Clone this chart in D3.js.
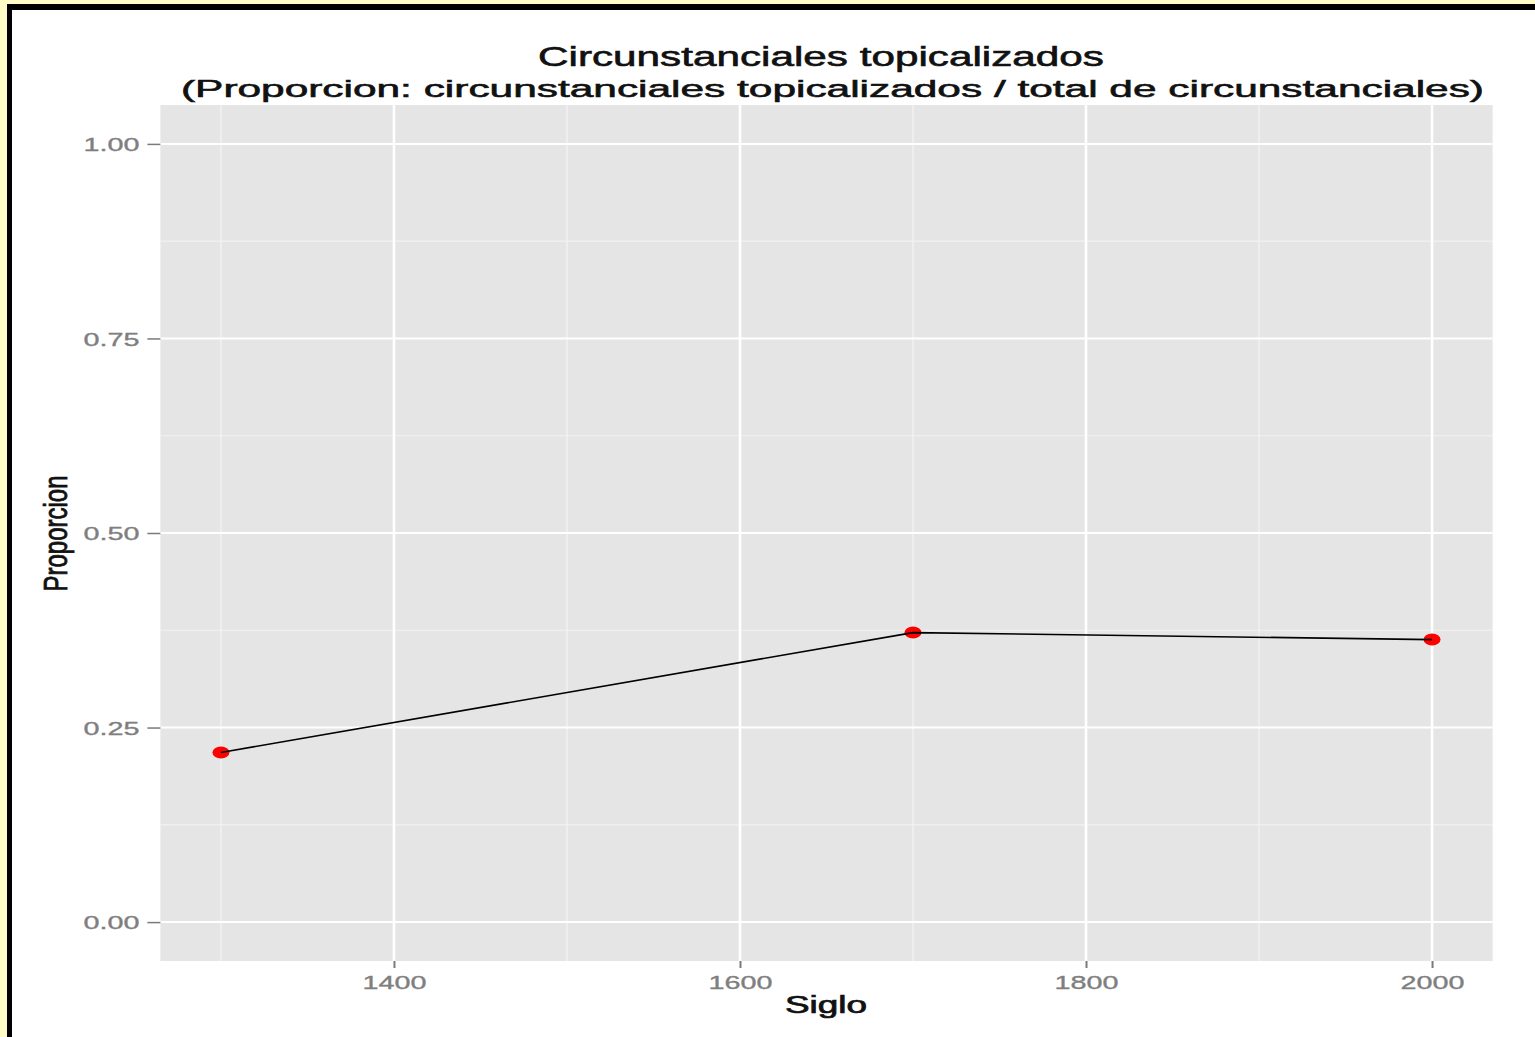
<!DOCTYPE html>
<html>
<head>
<meta charset="utf-8">
<script src="https://cdn.jsdelivr.net/npm/d3@7"></script>
<style>
html,body{margin:0;padding:0;background:#fffcc8;}
svg{display:block;}
text{font-family:"Liberation Sans",Arial,sans-serif;}
</style>
</head>
<body>
<svg id="chart" width="1535" height="1037"></svg>
<script>
// ---- data ----
const siglos = [1300, 1700, 2000];
const proporcion = [0.218, 0.372, 0.363];
const xTicks = [1400, 1600, 1800, 2000];
const xMinorTicks = [1300, 1500, 1700, 1900];
const yTicks = [0, 0.25, 0.5, 0.75, 1];
const yMinorTicks = [0.125, 0.375, 0.625, 0.875];
const titleLine1 = "Circunstanciales topicalizados";
const titleLine2 = "(Proporcion: circunstanciales topicalizados / total de circunstanciales)";
const xLabel = "Siglo";
const yLabel = "Proporcion";

const svg = d3.select("#chart");
const W = 1535, H = 1037;

// frame
svg.append("rect").attr("x", 0).attr("y", 0).attr("width", W).attr("height", H).attr("fill", "#fffcc8");
svg.append("rect").attr("x", 7).attr("y", 4).attr("width", W + 20).attr("height", H + 20).attr("fill", "#000");
svg.append("rect").attr("x", 12).attr("y", 10).attr("width", W + 20).attr("height", H + 20).attr("fill", "#fff");

const panel = {left: 160.4, right: 1492.6, top: 105, bottom: 961};
const x = d3.scaleLinear().domain([1265, 2035]).range([panel.left, panel.right]);
const y = d3.scaleLinear().domain([-0.05, 1.05]).range([panel.bottom, panel.top]);

// panel background
svg.append("rect")
  .attr("x", panel.left).attr("y", panel.top)
  .attr("width", panel.right - panel.left).attr("height", panel.bottom - panel.top)
  .attr("fill", "#e5e5e5");

const grid = svg.append("g");
// minor grid
grid.selectAll(".vminor").data(xMinorTicks).join("line")
  .attr("x1", d => x(d)).attr("x2", d => x(d)).attr("y1", panel.top).attr("y2", panel.bottom)
  .attr("stroke", "#f2f2f2").attr("stroke-width", 1.4);
grid.selectAll(".hminor").data(yMinorTicks).join("line")
  .attr("x1", panel.left).attr("x2", panel.right).attr("y1", d => y(d)).attr("y2", d => y(d))
  .attr("stroke", "#f2f2f2").attr("stroke-width", 1.2);
// major grid
grid.selectAll(".vmajor").data(xTicks).join("line")
  .attr("x1", d => x(d)).attr("x2", d => x(d)).attr("y1", panel.top).attr("y2", panel.bottom)
  .attr("stroke", "#ffffff").attr("stroke-width", 2.6);
grid.selectAll(".hmajor").data(yTicks).join("line")
  .attr("x1", panel.left).attr("x2", panel.right).attr("y1", d => y(d)).attr("y2", d => y(d))
  .attr("stroke", "#ffffff").attr("stroke-width", 2);

// axes
const xAxis = svg.append("g").attr("transform", `translate(0,${panel.bottom})`)
  .call(d3.axisBottom(x).tickValues(xTicks).tickFormat(d3.format("d")).tickSize(7).tickPadding(0));
xAxis.select(".domain").remove();
xAxis.selectAll(".tick line").attr("stroke", "#7a7a7a").attr("stroke-width", 2);
xAxis.selectAll(".tick text")
  .attr("y", 27.5).attr("dy", null)
  .attr("fill", "#7f7f7f").attr("stroke", "#7f7f7f").attr("stroke-width", 0.35)
  .attr("font-size", 18.5)
  .attr("textLength", 64).attr("lengthAdjust", "spacingAndGlyphs");

const yAxis = svg.append("g").attr("transform", `translate(${panel.left},0)`)
  .call(d3.axisLeft(y).tickValues(yTicks).tickFormat(d3.format(".2f")).tickSize(13).tickPadding(0));
yAxis.select(".domain").remove();
yAxis.selectAll(".tick line").attr("stroke", "#7a7a7a").attr("stroke-width", 1.5);
yAxis.selectAll(".tick text")
  .attr("x", -21).attr("dy", null).attr("y", 6.8)
  .attr("fill", "#7f7f7f").attr("stroke", "#7f7f7f").attr("stroke-width", 0.35)
  .attr("font-size", 18.5)
  .attr("textLength", 56).attr("lengthAdjust", "spacingAndGlyphs");

// points (under line, as in reference)
svg.append("g").selectAll("ellipse")
  .data(siglos.map((s, i) => ({s, p: proporcion[i]})))
  .join("ellipse")
  .attr("cx", d => x(d.s)).attr("cy", d => y(d.p))
  .attr("rx", 8.5).attr("ry", 6)
  .attr("fill", "#ff0000");

// line
const line = d3.line().x((d, i) => x(siglos[i])).y(d => y(d));
svg.append("path").datum(proporcion)
  .attr("d", line).attr("fill", "none")
  .attr("stroke", "#000").attr("stroke-width", 1.6);

// titles
svg.append("text").attr("x", 821).attr("y", 66).attr("text-anchor", "middle")
  .attr("font-size", 27).attr("fill", "#111").attr("stroke", "#111").attr("stroke-width", 0.6)
  .attr("textLength", 566).attr("lengthAdjust", "spacingAndGlyphs")
  .text(titleLine1);
svg.append("text").attr("x", 832.5).attr("y", 97).attr("text-anchor", "middle")
  .attr("font-size", 24.5).attr("fill", "#111").attr("stroke", "#111").attr("stroke-width", 0.6)
  .attr("textLength", 1303).attr("lengthAdjust", "spacingAndGlyphs")
  .text(titleLine2);

// axis titles
svg.append("text").attr("x", 826).attr("y", 1013).attr("text-anchor", "middle")
  .attr("font-size", 23).attr("fill", "#111").attr("stroke", "#111").attr("stroke-width", 0.7)
  .attr("textLength", 82).attr("lengthAdjust", "spacingAndGlyphs")
  .text(xLabel);
svg.append("text")
  .attr("transform", "translate(67,533.5) scale(1.35,1) rotate(-90)")
  .attr("text-anchor", "middle")
  .attr("font-size", 24).attr("fill", "#111").attr("stroke", "#111").attr("stroke-width", 0.6)
  .text(yLabel);
</script>
</body>
</html>
